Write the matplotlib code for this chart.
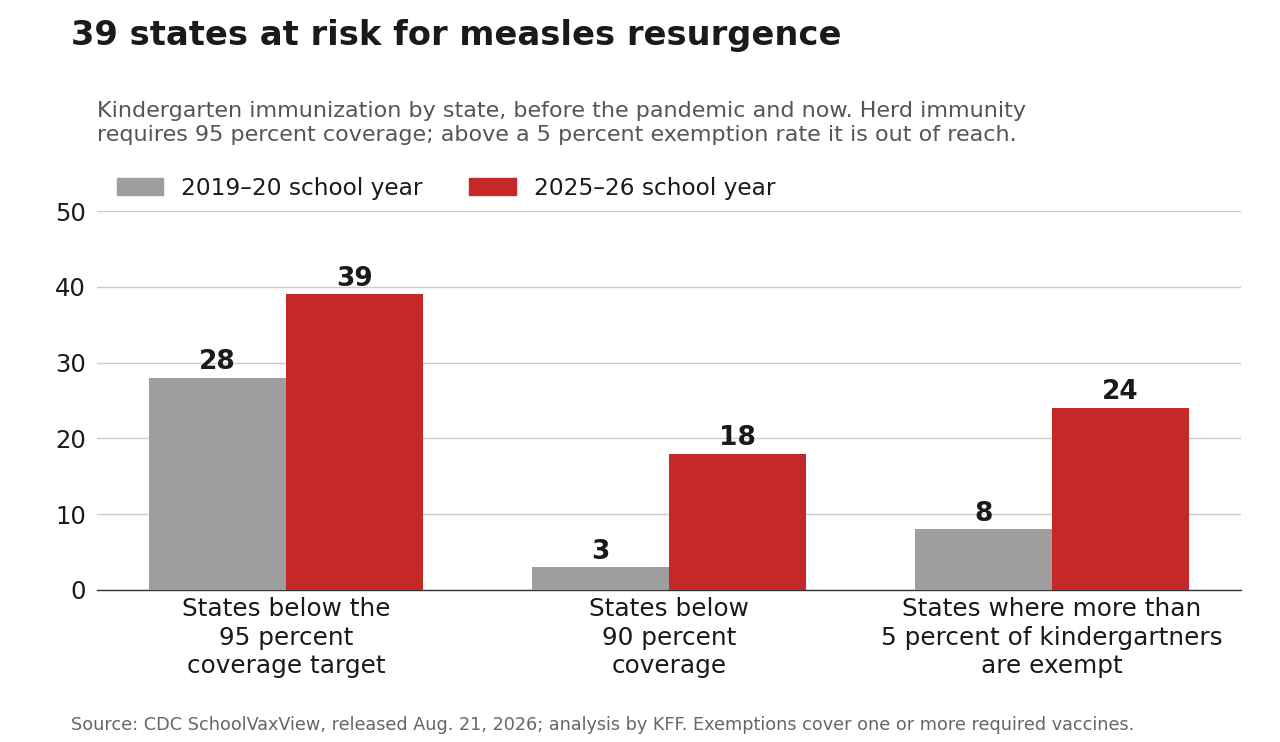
import numpy as np
import matplotlib
matplotlib.use("Agg")
import matplotlib.pyplot as plt
from matplotlib.patches import Patch

# chart values
categories = [
    "States below the\n95 percent\ncoverage target",
    "States below\n90 percent\ncoverage",
    "States where more than\n5 percent of kindergartners\nare exempt",
]
series_names = ["2019\u201320 school year", "2025\u201326 school year"]
before = [28, 3, 8]
now = [39, 18, 24]
yticks = [0, 10, 20, 30, 40, 50]

GREY = "#9e9e9e"
RED = "#c62828"
DARK = "#1a1a1a"

plt.rcParams["font.family"] = ["DejaVu Sans"]

fig = plt.figure(figsize=(12.8, 7.42), dpi=100)
ax = fig.add_axes([0.0758, 0.2049, 0.8937, 0.5107])

x = np.arange(len(categories))
w = 0.358
b1 = ax.bar(x - w / 2, before, width=w, color=GREY, zorder=3)
b2 = ax.bar(x + w / 2, now, width=w, color=RED, zorder=3)

# value labels above bars
for bars, vals in ((b1, before), (b2, now)):
    for rect, v in zip(bars, vals):
        ax.text(rect.get_x() + rect.get_width() / 2, v + 0.35, str(v),
                ha="center", va="bottom", fontsize=19, fontweight="bold",
                color=DARK, zorder=4)

ax.set_xlim(-0.493, 2.493)
ax.set_ylim(0, 50)
ax.set_yticks(yticks)
ax.set_xticks(x)
ax.set_xticklabels(categories, fontsize=17.8, color=DARK, linespacing=1.25)
ax.tick_params(axis="y", labelsize=17.5, labelcolor=DARK, length=0, pad=8)
ax.tick_params(axis="x", length=0, pad=5)
ax.grid(axis="y", color="#cccccc", linewidth=1, zorder=0)
for s in ["top", "right", "left"]:
    ax.spines[s].set_visible(False)
ax.spines["bottom"].set_color("#333333")
ax.spines["bottom"].set_linewidth(1)

# title, subtitle, source
fig.text(71 / 1280, 1 - 35 / 742, "39 states at risk for measles resurgence",
         fontsize=24.3, fontweight="bold", color=DARK, va="center", ha="left")
fig.text(97 / 1280, 1 - 123 / 742,
         "Kindergarten immunization by state, before the pandemic and now. Herd immunity\n"
         "requires 95 percent coverage; above a 5 percent exemption rate it is out of reach.",
         fontsize=16, color="#555555", va="center", ha="left", linespacing=1.22)
fig.text(71 / 1280, 1 - 725 / 742,
         "Source: CDC SchoolVaxView, released Aug. 21, 2026; analysis by KFF. "
         "Exemptions cover one or more required vaccines.",
         fontsize=12.7, color="#666666", va="center", ha="left")

handles = [Patch(color=GREY), Patch(color=RED)]
fig.legend(handles, series_names, loc="center left",
           bbox_to_anchor=(96 / 1280, 1 - 188 / 742), ncol=2, frameon=False,
           fontsize=16.75, handlelength=2.0, handleheight=0.72,
           handletextpad=0.77, columnspacing=2.0, labelcolor=DARK)

fig.savefig("out.png", dpi=100)
